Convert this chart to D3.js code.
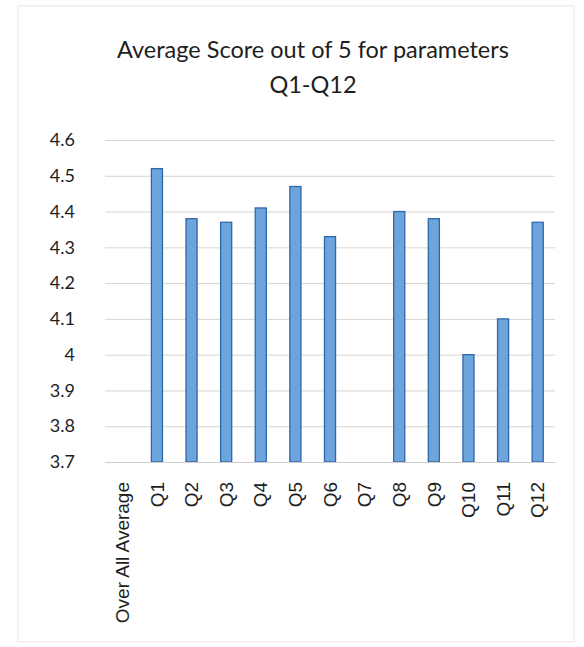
<!DOCTYPE html>
<html>
<head>
<meta charset="utf-8">
<script src="https://cdn.jsdelivr.net/npm/d3@7"></script>
<style>
  html, body { margin: 0; padding: 0; background: #fff; }
  svg { display: block; font-family: Lato, "Open Sans", sans-serif; }
</style>
</head>
<body>
<svg id="chart" width="584" height="647"></svg>
<script>
const categories = ["Over All Average", "Q1", "Q2", "Q3", "Q4", "Q5", "Q6", "Q7", "Q8", "Q9", "Q10", "Q11", "Q12"];
const scores = [null, 4.52, 4.38, 4.37, 4.41, 4.47, 4.33, null, 4.40, 4.38, 4.00, 4.10, 4.37];
const yTicks = [3.7, 3.8, 3.9, 4.0, 4.1, 4.2, 4.3, 4.4, 4.5, 4.6];
const yTickLabels = ["3.7", "3.8", "3.9", "4", "4.1", "4.2", "4.3", "4.4", "4.5", "4.6"];
const titleLines = ["Average Score out of 5 for parameters", "Q1-Q12"];

const svg = d3.select("#chart");
const m = { left: 105, right: 555, top: 140, bottom: 462 };

// faint page/chart frame
svg.append("rect").attr("x", 18).attr("y", 6).attr("width", 556).attr("height", 636)
  .attr("fill", "none").attr("stroke", "#e6e2e2").attr("stroke-width", 1);

const x = d3.scaleBand().domain(categories).range([m.left, m.right])
  .paddingInner(0.68).paddingOuter(0.34);
const y = d3.scaleLinear().domain([3.7, 4.6]).range([m.bottom, m.top]);

// title
svg.append("g").selectAll("text").data(titleLines).join("text")
  .attr("x", 313).attr("y", (d, i) => 58 + i * 35)
  .attr("text-anchor", "middle").attr("font-size", 23.5).attr("fill", "#1e1e1e")
  .text(d => d);

// gridlines + y labels
const yAxis = d3.axisLeft(y).tickValues(yTicks)
  .tickFormat((d, i) => yTickLabels[i])
  .tickSize(-(m.right - m.left)).tickPadding(30);
const gy = svg.append("g").attr("transform", `translate(${m.left},0)`).call(yAxis);
gy.select(".domain").remove();
gy.selectAll(".tick line").attr("stroke", "#dcd2d2").attr("stroke-width", 1);
gy.selectAll(".tick text").attr("font-size", 18).attr("fill", "#1e1e1e")
  .attr("font-family", "Lato, 'Open Sans', sans-serif");

// bars
svg.append("g").selectAll("rect")
  .data(categories.map((c, i) => ({ c, v: scores[i] })).filter(d => d.v !== null))
  .join("rect")
  .attr("x", d => x(d.c))
  .attr("y", d => y(d.v))
  .attr("width", x.bandwidth())
  .attr("height", d => y(3.7) - y(d.v))
  .attr("fill", "#6ea4dc")
  .attr("stroke", "#2d68ad")
  .attr("stroke-width", 1.3);

// x axis
const xAxis = d3.axisBottom(x).tickSize(0).tickPadding(0);
const gx = svg.append("g").attr("transform", `translate(0,${m.bottom})`).call(xAxis);
gx.select(".domain").attr("stroke", "#d2cccc");
gx.selectAll(".tick text")
  .attr("font-size", 19).attr("fill", "#1e1e1e")
  .attr("font-family", "'Liberation Sans', Arial, sans-serif")
  .attr("transform", "rotate(-90)")
  .attr("text-anchor", "end")
  .attr("x", -20).attr("y", 0).attr("dy", "0.35em");
</script>
</body>
</html>
